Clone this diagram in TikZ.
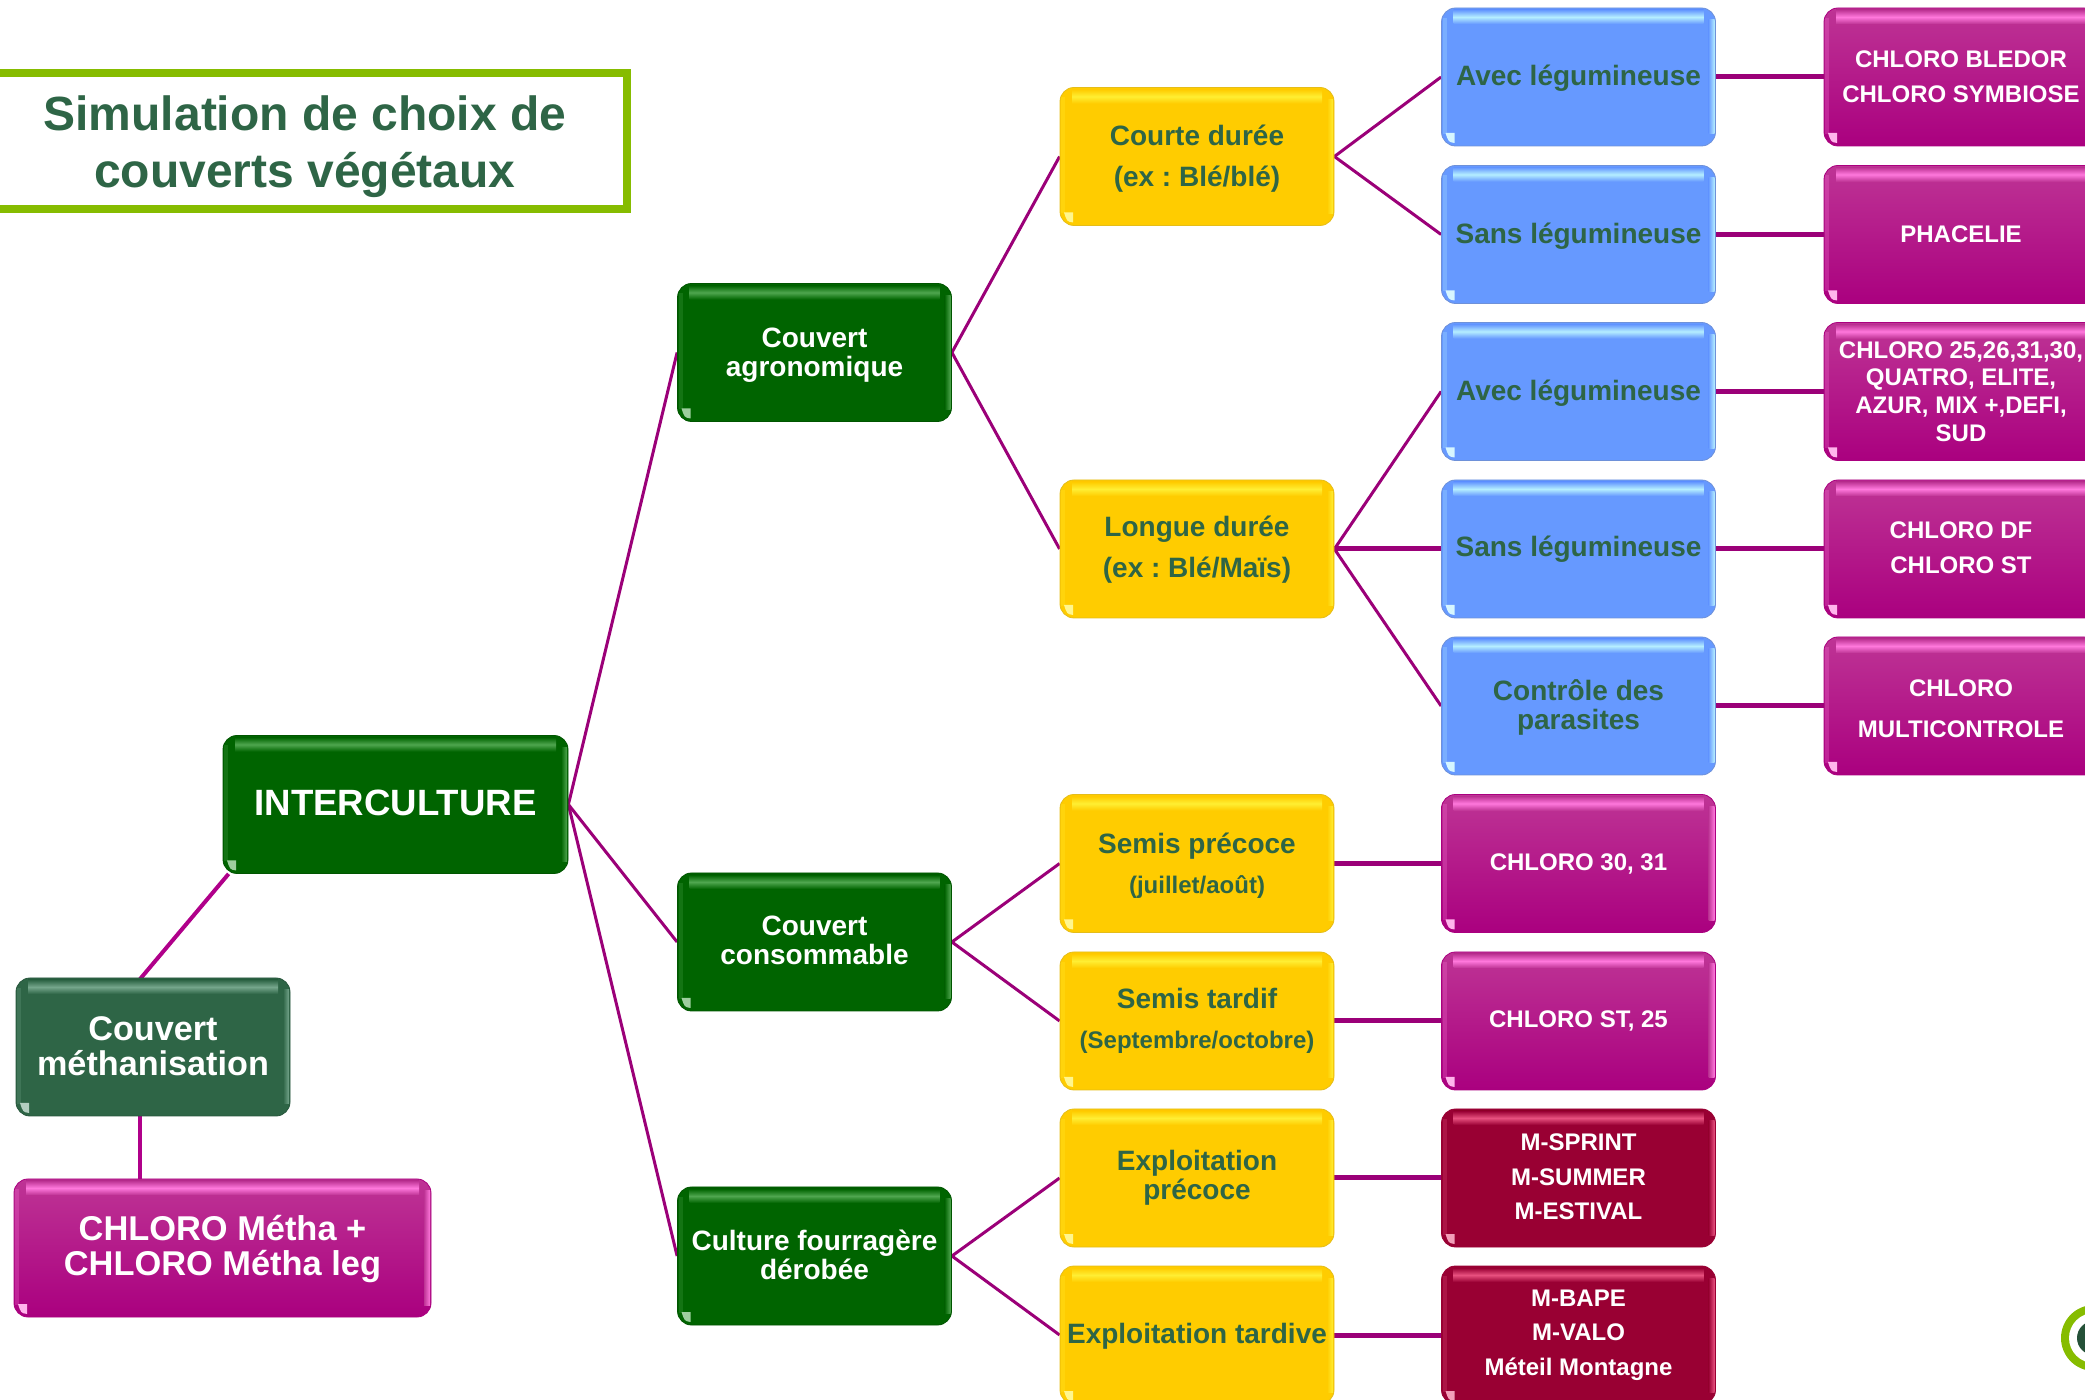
\documentclass[tikz,border=0pt]{standalone}
\usepackage{fontspec}
\setmainfont{Liberation Sans}
\usetikzlibrary{calc,backgrounds}
\definecolor{txtgreen}{HTML}{2E6546}
\definecolor{linepurple}{HTML}{9B0078}
\definecolor{linemag}{HTML}{B0008A}
\definecolor{titlegreen}{HTML}{86BC00}
\definecolor{cdark}{HTML}{006400}
\definecolor{cdarkS}{HTML}{4FA64F}
\definecolor{csea}{HTML}{2E6546}
\definecolor{cseaS}{HTML}{75A68C}
\definecolor{cblue}{HTML}{6699FF}
\definecolor{cblueS}{HTML}{B5EEFF}
\definecolor{cyel}{HTML}{FFCC00}
\definecolor{cyelS}{HTML}{FFEE33}
\definecolor{cmagT}{HTML}{BE3495}
\definecolor{cmagM}{HTML}{BC0096}
\definecolor{cmagB}{HTML}{AA007F}
\definecolor{cmagS}{HTML}{FF78DC}
\definecolor{ccrim}{HTML}{990033}
\definecolor{ccrimS}{HTML}{E8507F}
\newcommand{\ftx}[2]{\fontsize{#1}{#2}\selectfont\bfseries\frenchspacing}
% move a text block down (first line) or up (last line) by #1 pt
\newcommand{\dn}[1]{\rule{0pt}{\dimexpr 0.73em+#1*2\relax}}
\newcommand{\up}[1]{\rule[-\dimexpr #1*2\relax]{0pt}{0pt}}
\newcommand{\glossy}[2]{%
  \coordinate (gnw) at (path picture bounding box.north west);
  \coordinate (gne) at (path picture bounding box.north east);
  \coordinate (gsw) at (path picture bounding box.south west);
  \coordinate (gse) at (path picture bounding box.south east);
  \begin{scope}[sharp corners]
  \shade[top color=#1,bottom color=#1,middle color=#2] ($(gnw)+(12,2)$) rectangle ($(gne)+(-12,16)$);
  \shade[left color=#1,right color=#2] ($(gne)+(-7,12)$) rectangle ($(gse)+(-1,-12)$);
  \fill[#2,opacity=.25] ($(gnw)+(1,10)$) rectangle ($(gsw)+(5,-12)$);
  \fill[#2!55!white] ($(gsw)+(4,-13)$) -- ($(gsw)+(13,-13)$) -- ($(gsw)+(13,-3)$) .. controls ($(gsw)+(7,-4)$) .. cycle;
  \end{scope}
}
\tikzset{
  x=0.5pt,y=-0.5pt,
  boxbase/.style={rectangle,rounded corners=7pt,inner sep=0pt,minimum width=137pt,minimum height=69pt,align=center,line width=.4pt},
  bgreen/.style={boxbase,fill=cdark,draw=cdark!85!black,text=white,font=\ftx{14}{14.5},path picture={\glossy{cdark}{cdarkS}}},
  bsea/.style={boxbase,fill=csea,draw=csea!85!black,text=white,font=\ftx{17.1}{17.5},path picture={\glossy{csea}{cseaS}}},
  bblue/.style={boxbase,fill=cblue,draw=cblue!70!gray,text=txtgreen,font=\ftx{14}{14.5},path picture={\glossy{cblue}{cblueS}}},
  byel/.style={boxbase,fill=cyel,draw=cyel!80!gray,text=txtgreen,font=\ftx{14}{14.5},path picture={\glossy{cyel}{cyelS}}},
  bmag/.style={boxbase,top color=cmagT,middle color=cmagM,bottom color=cmagB,draw=cmagB,text=white,font=\ftx{12}{17.3},path picture={\glossy{cmagT}{cmagS}}},
  bcrim/.style={boxbase,fill=ccrim,draw=ccrim,text=white,font=\ftx{12}{17.3},path picture={\glossy{ccrim}{ccrimS}}},
  thinlink/.style={draw=linepurple,line width=1.5pt},
  thicklink/.style={draw=linepurple,line width=2.5pt},
  titlebox/.style={rectangle,draw=titlegreen,line width=4pt,fill=white,minimum width=322pt,minimum height=68pt,inner sep=0pt,align=center,text=txtgreen,font=\ftx{24}{28.5}}
}
\begin{document}
\begin{tikzpicture}
\useasboundingbox (0,0) rectangle (2085,1400);
% title
\node[titlebox] (title) at (305,141) {\dn{2.6pt}Simulation de choix de\\couverts végétaux};
% left
\node[bgreen,minimum width=172.5pt,font=\ftx{18.3}{19}] (inter) at (395.5,804.5) {INTERCULTURE\up{.67pt}};
\node[bsea] (meth) at (153,1047) {Couvert\\méthanisation\up{.67pt}};
\node[bmag,minimum width=208.5pt,font=\ftx{17.2}{17.5}] (metha) at (222.5,1248) {\dn{.67pt}CHLORO Métha +\\CHLORO Métha leg};
% green column
\node[bgreen] (agro) at (814.5,352.5) {\dn{1.3pt}Couvert\\agronomique};
\node[bgreen] (conso) at (814.5,942) {Couvert\\consommable\up{.67pt}};
\node[bgreen] (fourr) at (814.5,1256) {Culture fourragère\\dérobée\up{.67pt}};
% yellow column
\node[byel,font=\ftx{14}{20.4}] (courte) at (1197,156.5) {\dn{.9pt}Courte durée\\(ex : Blé/blé)};
\node[byel,font=\ftx{14}{20.4}] (longue) at (1197,549) {\dn{.3pt}Longue durée\\(ex : Blé/Maïs)};
\node[byel,font=\ftx{14}{20}] (sprec) at (1197,863.5) {\dn{1.1pt}Semis précoce\\{\fontsize{12}{20}\selectfont\bfseries (juillet/août)}};
\node[byel,font=\ftx{14}{20}] (stard) at (1197,1021) {Semis tardif\\{\fontsize{12}{20}\selectfont\bfseries (Septembre/octobre)}};
\node[byel] (eprec) at (1197,1178) {Exploitation\\précoce};
\node[byel] (etard) at (1197,1335) {\dn{.5pt}Exploitation tardive};
% blue column
\node[bblue] (b1) at (1578.5,77) {\dn{.67pt}Avec légumineuse};
\node[bblue] (b2) at (1578.5,234.5) {\dn{.67pt}Sans légumineuse};
\node[bblue] (b3) at (1578.5,391.5) {\dn{.67pt}Avec légumineuse};
\node[bblue] (b4) at (1578.5,549) {Sans légumineuse};
\node[bblue] (b5) at (1578.5,706) {\dn{.67pt}Contrôle des\\parasites};
% magenta middle column
\node[bmag] (m6) at (1578.5,863.5) {CHLORO 30, 31};
\node[bmag] (m7) at (1578.5,1021) {CHLORO ST, 25};
\node[bcrim] (m8) at (1578.5,1178) {M-SPRINT\\M-SUMMER\\M-ESTIVAL\up{.67pt}};
\node[bcrim] (m9) at (1578.5,1335) {M-BAPE\\M-VALO\\Méteil Montagne};
% magenta right column
\node[bmag] (r1) at (1961,77) {CHLORO BLEDOR\\CHLORO SYMBIOSE};
\node[bmag] (r2) at (1961,234.5) {PHACELIE};
\node[bmag,font=\ftx{12}{13.9}] (r3) at (1961,391.5) {CHLORO 25,26,31,30,\\QUATRO, ELITE,\\AZUR, MIX +,DEFI,\\SUD};
\node[bmag] (r4) at (1961,549) {CHLORO DF\\CHLORO ST\up{.67pt}};
\node[bmag,font=\ftx{12}{20.5}] (r5) at (1961,706) {\dn{1.2pt}CHLORO\\MULTICONTROLE};
% logo
\fill[titlegreen] (2094,1338) circle[radius=33];
\fill[white] (2094,1338) circle[radius=25];
\fill[csea!80!black] (2094,1338) circle[radius=17];
\begin{scope}[on background layer]
  \coordinate (intersw) at ($(inter.south west)+(6,0)$);
  \coordinate (methtop) at ($(meth.north west)+(124,2)$);
  \coordinate (methbot) at ($(meth.south west)+(124,-3)$);
  \coordinate (methatop) at ($(metha.north west)+(126,3)$);
  \draw[line width=2pt,linemag] (intersw) -- (methtop);
  \draw[line width=2pt,linemag] (methbot) -- (methatop);
  \foreach \a/\b in {inter/agro,inter/conso,inter/fourr,agro/courte,agro/longue,conso/sprec,conso/stard,fourr/eprec,fourr/etard,courte/b1,courte/b2,longue/b3,longue/b5}
    \draw[thinlink] (\a.east) -- (\b.west);
  \foreach \a/\b in {longue/b4,b1/r1,b2/r2,b3/r3,b4/r4,b5/r5,sprec/m6,stard/m7,eprec/m8,etard/m9}
    \draw[thicklink] (\a.east) -- (\b.west);
\end{scope}
\end{tikzpicture}
\end{document}
